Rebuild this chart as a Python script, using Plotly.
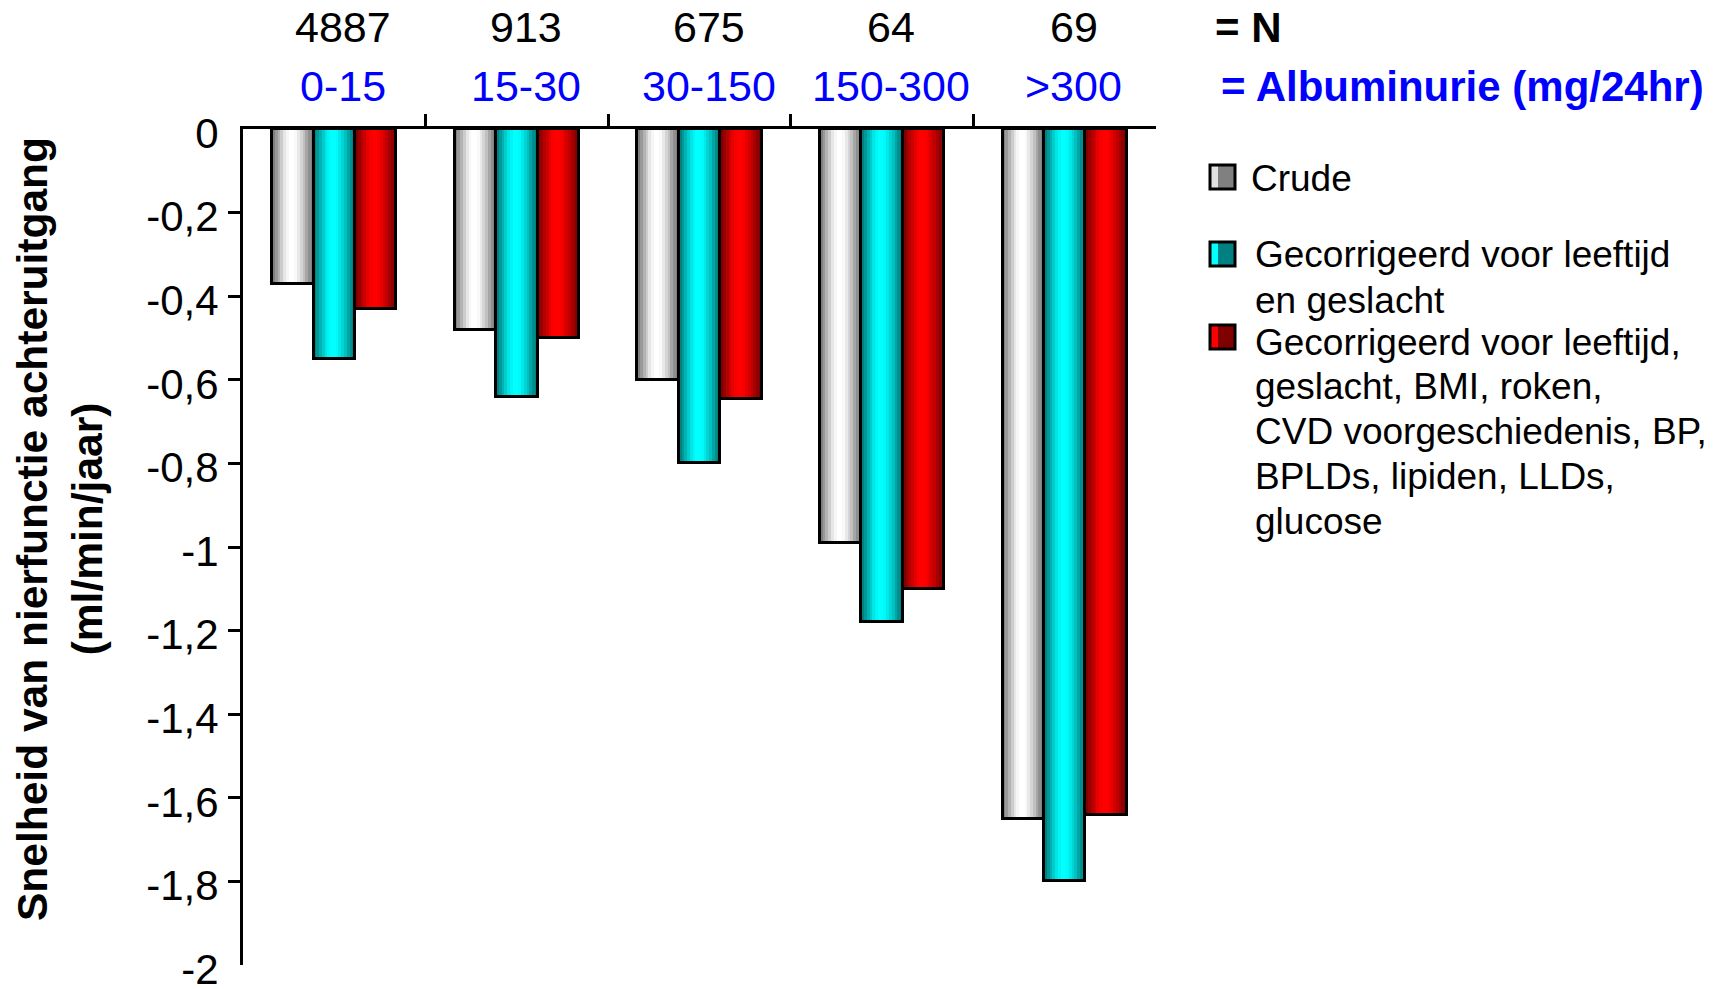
import plotly.graph_objects as go

# Albuminuria classes (mg/24hr) and number of subjects per class
albuminurie = ["0-15", "15-30", "30-150", "150-300", ">300"]
n_subjects = ["4887", "913", "675", "64", "69"]

# Rate of renal function decline (ml/min/year)
crude = [-0.37, -0.48, -0.60, -0.99, -1.65]
corr_leeftijd_geslacht = [-0.55, -0.64, -0.80, -1.18, -1.80]
corr_volledig = [-0.43, -0.50, -0.645, -1.10, -1.64]

y_tickvals = [0, -0.2, -0.4, -0.6, -0.8, -1, -1.2, -1.4, -1.6, -1.8, -2]
y_ticktext = ["0", "-0,2", "-0,4", "-0,6", "-0,8", "-1", "-1,2", "-1,4", "-1,6", "-1,8", "-2"]

legend_crude = ["Crude"]
legend_lg = ["Gecorrigeerd voor leeftijd", "en geslacht"]
legend_full = ["Gecorrigeerd voor leeftijd,", "geslacht, BMI, roken,",
               "CVD voorgeschiedenis, BP,", "BPLDs, lipiden, LLDs,", "glucose"]

FONT = "Liberation Sans, Arial, sans-serif"
W, H = 1720, 989
L, R, T, B = 243, 1156, 129, 965   # plot area in pixels
PW, PH = R - L, B - T


def px(xp):
    return (xp - L) / PW


def py(yp):
    return (B - yp) / PH


def mix(dark, light, t):
    return "rgb(%d,%d,%d)" % tuple(round(d + (l - d) * t) for d, l in zip(dark, light))


# cylinder shading profile across a bar (0 = edge colour, 1 = highlight)
shade = [0.0, 0.2, 0.4, 0.6, 0.8, 0.93, 1.0, 1.0, 0.95, 0.82, 0.66, 0.5, 0.3, 0.12, 0.0]

series = [
    (crude, (128, 128, 128), (255, 255, 255), -1),
    (corr_leeftijd_geslacht, (0, 128, 128), (0, 255, 255), 0),
    (corr_volledig, (128, 0, 0), (255, 0, 0), 1),
]

xs = list(range(len(albuminurie)))
BW = 0.227
fig = go.Figure()

for vals, dark, light, slot in series:
    left = slot * BW - BW / 2
    sw = BW / len(shade)
    for k, t in enumerate(shade):
        fig.add_trace(go.Bar(
            x=xs, y=vals, base=0, width=sw * 1.15, offset=left + k * sw,
            marker=dict(color=mix(dark, light, t), line=dict(width=0)),
            showlegend=False, hoverinfo="skip"))
    fig.add_trace(go.Bar(
        x=xs, y=vals, base=0, width=BW, offset=left,
        marker=dict(color="rgba(0,0,0,0)", line=dict(color="black", width=3)),
        showlegend=False))


def label(xp, yp, text, size, color="black", xanchor="center", **kw):
    return dict(x=px(xp), y=py(yp), xref="paper", yref="paper",
                xanchor=xanchor, yanchor="middle", text=text, showarrow=False,
                font=dict(family=FONT, size=size, color=color), **kw)


annotations = []
# N per group and albuminuria class above the chart
for i in range(len(albuminurie)):
    xc = L + (i + 0.5) * PW / len(albuminurie) + 9
    annotations.append(label(xc, 27, n_subjects[i], 43))
    annotations.append(label(xc, 86, albuminurie[i], 43, "#0000ff"))

annotations.append(label(1213, 27, "<b>= N</b>", 42, xanchor="left"))
annotations.append(label(1219, 87, "<b>= Albuminurie (mg/24hr)</b>", 42, "#0000ff",
                         xanchor="left"))

# y-axis title
annotations.append(label(60, 529,
                         "<b>Snelheid van nierfunctie achteruitgang<br>(ml/min/jaar)</b>",
                         42.5, textangle=-90))

# legend
shapes = []
legend_items = [
    (legend_crude, 177, 1249, (128, 128, 128), (225, 225, 225), [178]),
    (legend_lg, 254, 1253, (0, 128, 128), (0, 255, 255), [255, 300]),
    (legend_full, 337, 1253, (128, 0, 0), (255, 0, 0), [342, 386, 431, 476, 521]),
]
for lines, sy, tx, dark, light, ys in legend_items:
    x0, x1, y0, y1 = 1210, 1235, sy - 12, sy + 12
    shapes.append(dict(type="rect", xref="paper", yref="paper",
                       x0=px(x0), x1=px(x1), y0=py(y1), y1=py(y0),
                       fillcolor=mix(dark, dark, 0), line=dict(width=0)))
    shapes.append(dict(type="rect", xref="paper", yref="paper",
                       x0=px(x0), x1=px(x0 + 8), y0=py(y1), y1=py(y0),
                       fillcolor=mix(light, light, 0), line=dict(width=0)))
    shapes.append(dict(type="rect", xref="paper", yref="paper",
                       x0=px(x0), x1=px(x1), y0=py(y1), y1=py(y0),
                       fillcolor="rgba(0,0,0,0)", line=dict(color="black", width=3)))
    for txt, yy in zip(lines, ys):
        annotations.append(label(tx, yy, txt, 37, xanchor="left"))

fig.update_layout(
    width=W, height=H,
    margin=dict(l=L, r=W - R, t=T, b=H - B, autoexpand=False),
    paper_bgcolor="white", plot_bgcolor="white",
    barmode="overlay", bargap=0,
    showlegend=False,
    annotations=annotations, shapes=shapes,
    font=dict(family=FONT, color="black"),
    xaxis=dict(range=[-0.5, len(albuminurie) - 0.5], side="top", showline=True,
               linecolor="black", linewidth=3, ticks="outside", automargin=False,
               tickvals=[0.5, 1.5, 2.5, 3.5], ticklen=12, tickwidth=3, tickcolor="black",
               showticklabels=False, showgrid=False, zeroline=False, fixedrange=True),
    yaxis=dict(range=[-2, 0], showline=True, linecolor="black", linewidth=3,
               tickvals=y_tickvals, ticktext=y_ticktext, ticks="", automargin=False,
               tickfont=dict(family=FONT, size=42, color="black"),
               ticklabelshift=4, ticklabelstandoff=13, ticklabeloverflow="allow",
               minor=dict(tickvals=y_tickvals[1:-1], ticks="outside", ticklen=12,
                          tickwidth=3, tickcolor="black"),
               showgrid=False, zeroline=False, fixedrange=True),
)

fig.write_html("out.html")
